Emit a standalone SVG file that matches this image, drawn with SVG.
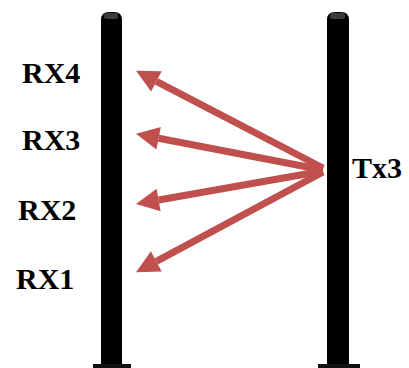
<svg xmlns="http://www.w3.org/2000/svg" width="409" height="368" viewBox="0 0 409 368">
<style>
.post{fill:#000}
.cap{fill:#3a3a3a}
.foot{fill:#111}
.lbl{font-family:"Liberation Serif","Times New Roman",serif;font-weight:bold;font-size:30px;fill:#000}
.arr{stroke:#c0504d;stroke-width:7;fill:none;marker-end:url(#head)}
</style>
<defs>
<marker id="head" markerUnits="userSpaceOnUse" markerWidth="30" markerHeight="30" refX="0" refY="0" orient="auto" overflow="visible">
<path d="M0,-11.5 L23,0 L0,11.5 z" fill="#c0504d"/>
</marker>
</defs>
<g id="post-rx">
<path class="post" d="M101,20 Q101,12 109,12 L114,12 Q122,12 122,20 L122,366 L101,366 z"/>
<rect class="cap" x="104" y="13" width="14" height="6" rx="2"/>
<rect class="foot" x="93" y="364" width="38" height="4"/>
</g>
<g id="post-tx">
<path class="post" d="M327,20 Q327,12 335,12 L341,12 Q349,12 349,20 L349,366 L327,366 z"/>
<rect class="cap" x="330" y="13" width="15" height="6" rx="2"/>
<rect class="foot" x="318" y="364" width="42" height="4"/>
</g>
<g id="connectors">
<line class="arr" x1="323" y1="168" x2="156.4" y2="81.4"/>
<line class="arr" x1="323" y1="170" x2="158.6" y2="138.2"/>
<line class="arr" x1="323" y1="171" x2="158.6" y2="200"/>
<line class="arr" x1="323" y1="172" x2="156.3" y2="261.4"/>
</g>
<g id="labels">
<text class="lbl" x="22" y="83">RX4</text>
<text class="lbl" x="22" y="150">RX3</text>
<text class="lbl" x="18" y="220">RX2</text>
<text class="lbl" x="16" y="289">RX1</text>
<text class="lbl" x="352" y="178">Tx3</text>
</g>
</svg>
